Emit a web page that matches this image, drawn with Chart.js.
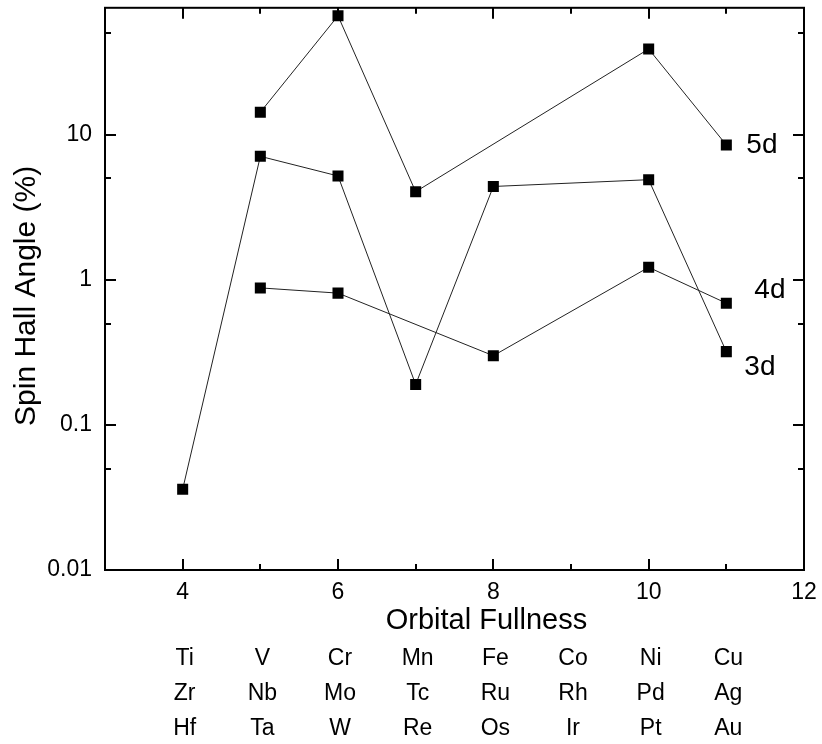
<!DOCTYPE html>
<html>
<head>
<meta charset="utf-8">
<script src="https://cdn.jsdelivr.net/npm/chart.js@4/dist/chart.umd.min.js"></script>
<style>
  html, body { margin: 0; padding: 0; background: #ffffff; }
  canvas { display: block; }
</style>
</head>
<body>
<canvas id="chart" width="822" height="744"></canvas>
<script>
// Orbital fullness (number of d electrons + s) and the elements of each row
const fullness = [4, 5, 6, 7, 8, 9, 10, 11];
const row3d = ['Ti', 'V', 'Cr', 'Mn', 'Fe', 'Co', 'Ni', 'Cu'];
const row4d = ['Zr', 'Nb', 'Mo', 'Tc', 'Ru', 'Rh', 'Pd', 'Ag'];
const row5d = ['Hf', 'Ta', 'W', 'Re', 'Os', 'Ir', 'Pt', 'Au'];

// Spin Hall angle (%) per series
const x3d = [4, 5, 6, 7, 8, 10, 11];
const angle3d = [0.036, 7.1, 5.2, 0.19, 4.4, 4.9, 0.32];
const x4d = [5, 6, 8, 10, 11];
const angle4d = [0.88, 0.81, 0.30, 1.22, 0.69];
const x5d = [5, 6, 7, 10, 11];
const angle5d = [14.3, 66, 4.05, 39, 8.5];
const seriesNames = ['3d', '4d', '5d'];

// Axis ticks
const xMajorTicks = [4, 6, 8, 10, 12];
const xMinorTicks = [5, 7, 9, 11];
const yMajorTicks = [0.01, 0.1, 1, 10];
const yMinorTicks = [0.05, 0.5, 5, 50];

const FONT = '"Liberation Sans", Arial, Helvetica, sans-serif';

function points(xs, ys) {
  return xs.map((x, i) => ({ x: x, y: ys[i] }));
}

function series(label, xs, ys) {
  return {
    label: label,
    data: points(xs, ys),
    borderColor: '#222222',
    borderWidth: 1,
    backgroundColor: '#000000',
    pointStyle: 'rect',
    pointRadius: 7.8,
    pointHoverRadius: 7.8,
    pointBorderWidth: 0,
    pointBackgroundColor: '#000000',
    tension: 0,
    fill: false
  };
}

// Frame with inward major/minor ticks on all four sides
const framePlugin = {
  id: 'frameTicks',
  afterDraw(chart) {
    const { ctx, chartArea: a, scales } = chart;
    const xs = scales.x, ys = scales.y;
    ctx.save();
    ctx.strokeStyle = '#000';
    ctx.lineWidth = 2;
    ctx.lineCap = 'butt';
    ctx.strokeRect(a.left, a.top, a.right - a.left, a.bottom - a.top);
    const major = 11, minor = 6;
    ctx.beginPath();
    const xt = (v, len) => {
      const px = Math.round(xs.getPixelForValue(v));
      if (px <= a.left + 1 || px >= a.right - 1) return;
      ctx.moveTo(px, a.bottom); ctx.lineTo(px, a.bottom - len);
      ctx.moveTo(px, a.top); ctx.lineTo(px, a.top + len);
    };
    const yt = (v, len) => {
      const py = Math.round(ys.getPixelForValue(v));
      if (py <= a.top + 1 || py >= a.bottom - 1) return;
      ctx.moveTo(a.left, py); ctx.lineTo(a.left + len, py);
      ctx.moveTo(a.right, py); ctx.lineTo(a.right - len, py);
    };
    xMajorTicks.forEach(v => xt(v, major));
    xMinorTicks.forEach(v => xt(v, minor));
    yMajorTicks.forEach(v => yt(v, major));
    yMinorTicks.forEach(v => yt(v, minor));
    ctx.stroke();
    ctx.restore();
  }
};

// Axis titles, series names and the element table under the x axis
const textPlugin = {
  id: 'extraText',
  afterDraw(chart) {
    const { ctx, chartArea: a, scales } = chart;
    const xs = scales.x, ys = scales.y;
    ctx.save();
    ctx.fillStyle = '#000';
    ctx.textBaseline = 'middle';

    // x-axis title
    ctx.font = '29px ' + FONT;
    ctx.textAlign = 'center';
    ctx.fillText('Orbital Fullness', (a.left + a.right) / 2 + 32, a.bottom + 51);

    // y-axis title
    ctx.save();
    ctx.font = '30px ' + FONT;
    ctx.translate(27, (a.top + a.bottom) / 2 + 7);
    ctx.rotate(-Math.PI / 2);
    ctx.fillText('Spin Hall Angle (%)', 0, 0);
    ctx.restore();

    // series names beside the last points
    ctx.font = '28px ' + FONT;
    ctx.textAlign = 'left';
    const tags = [
      { text: seriesNames[2], dx: 20, at: 8.5 },
      { text: seriesNames[1], dx: 28, at: 0.85 },
      { text: seriesNames[0], dx: 18, at: 0.248 }
    ];
    const xEnd = xs.getPixelForValue(11);
    tags.forEach(t => ctx.fillText(t.text, xEnd + t.dx, ys.getPixelForValue(t.at)));

    // element rows
    ctx.font = '23px ' + FONT;
    ctx.textAlign = 'center';
    [row3d, row4d, row5d].forEach((row, r) => {
      const y = a.bottom + 89 + 35 * r;
      row.forEach((el, i) => ctx.fillText(el, xs.getPixelForValue(fullness[i]) + 2, y));
    });
    ctx.restore();
  }
};

new Chart(document.getElementById('chart'), {
  type: 'line',
  data: {
    datasets: [
      series(seriesNames[0], x3d, angle3d),
      series(seriesNames[1], x4d, angle4d),
      series(seriesNames[2], x5d, angle5d)
    ]
  },
  options: {
    responsive: false,
    animation: false,
    devicePixelRatio: 1,
    layout: { padding: { top: 7, right: 18, left: 0, bottom: 0 } },
    plugins: {
      legend: { display: false },
      tooltip: { enabled: false },
      title: { display: false }
    },
    scales: {
      x: {
        type: 'linear',
        min: 3,
        max: 12,
        grid: { display: false, drawTicks: false },
        border: { display: false },
        afterBuildTicks: s => { s.ticks = xMajorTicks.map(v => ({ value: v })); },
        afterFit: s => { s.height = 174; s.paddingLeft = 0; s.paddingRight = 0; },
        ticks: {
          autoSkip: false,
          maxRotation: 0,
          padding: 9,
          color: '#000',
          font: { family: FONT, size: 23 },
          callback: v => String(v)
        }
      },
      y: {
        type: 'logarithmic',
        min: 0.01,
        max: 75,
        grid: { display: false, drawTicks: false },
        border: { display: false },
        afterBuildTicks: s => { s.ticks = yMajorTicks.map(v => ({ value: v })); },
        afterFit: s => { s.width = 105; s.paddingTop = 0; s.paddingBottom = 0; },
        ticks: {
          autoSkip: false,
          padding: 13,
          color: '#000',
          font: { family: FONT, size: 23 },
          callback: v => String(v)
        }
      }
    }
  },
  plugins: [framePlugin, textPlugin]
});
</script>
</body>
</html>
